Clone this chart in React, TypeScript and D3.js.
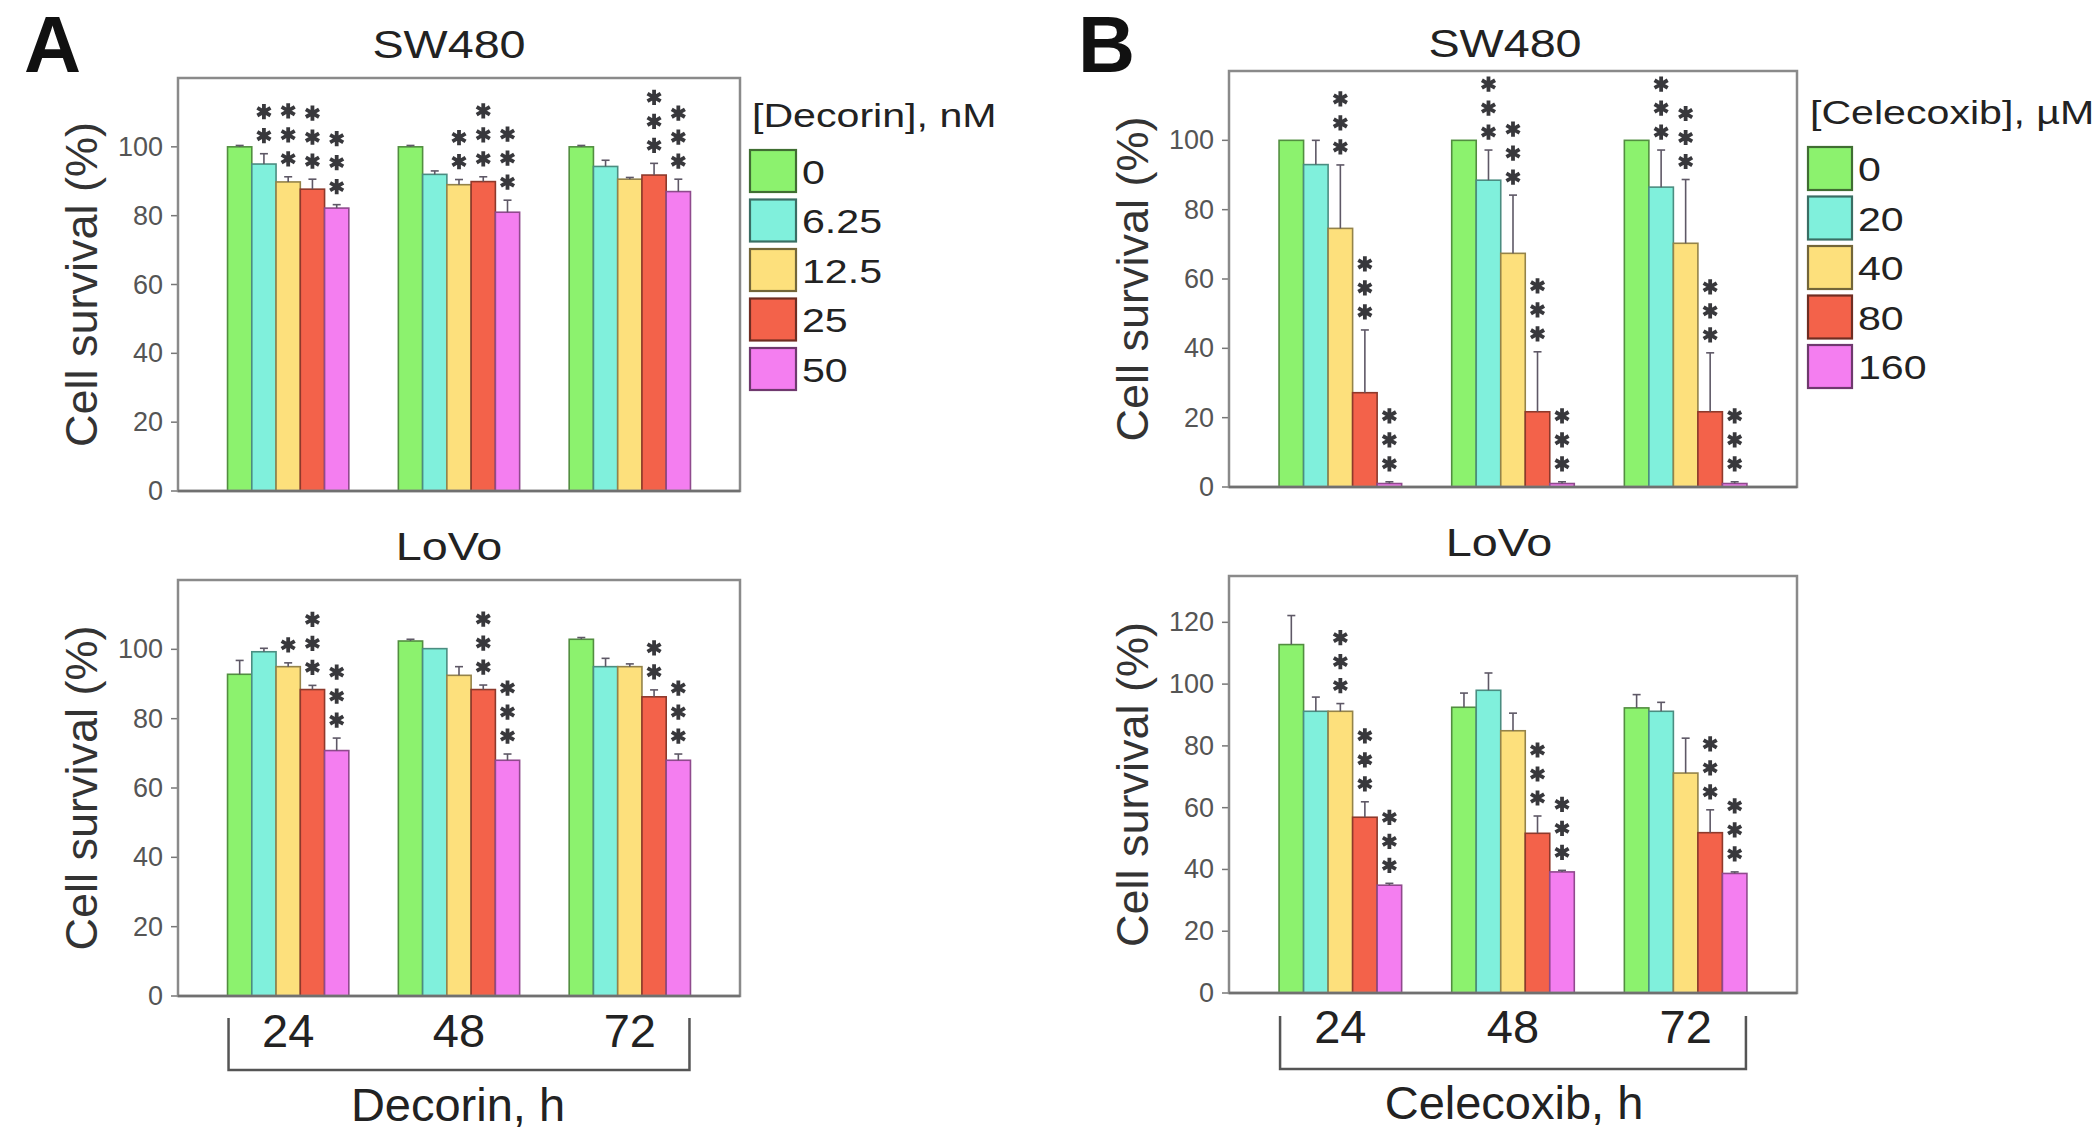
import React from 'react';
import * as d3 from 'd3';

// ---------- data ----------
const timeGroups = ['24', '48', '72'];
const decorinDoses = ['0', '6.25', '12.5', '25', '50'];
const celecoxibDoses = ['0', '20', '40', '80', '160'];
const seriesColors = ['#8cf26e', '#80f0dc', '#fde07c', '#f3624a', '#f47ef0'];
const yTicksStd = [0, 20, 40, 60, 80, 100];
const yTicksLoVoB = [0, 20, 40, 60, 80, 100, 120];

// values[dose][time]
const decorinSW480 = [[100, 100, 100], [95, 92, 94.3], [89.8, 89, 90.6], [87.7, 89.9, 91.8], [82.2, 81, 87]];
const decorinSW480Err = [[0.4, 0.4, 0.4], [3, 1, 1.8], [1.5, 1.5, 0.5], [2.9, 1.4, 3.4], [1, 3.5, 3.6]];
const decorinSW480Stars = [[0, 0, 0], [2, 0, 0], [3, 2, 0], [3, 3, 3], [3, 3, 3]];

const decorinLoVo = [[92.8, 102.4, 102.9], [99.3, 100.2, 95], [95, 92.5, 95], [88.4, 88.4, 86.3], [70.8, 68, 68]];
const decorinLoVoErr = [[4, 0.5, 0.5], [1, 0.3, 2.4], [1.1, 2.5, 0.8], [1.2, 1.3, 2], [3.6, 1.8, 1.8]];
const decorinLoVoStars = [[0, 0, 0], [0, 0, 0], [1, 0, 0], [3, 3, 2], [3, 3, 3]];

const celecoxibSW480 = [[100, 100, 100], [93, 88.5, 86.5], [74.6, 67.4, 70.3], [27.2, 21.7, 21.7], [1, 1, 1]];
const celecoxibSW480Err = [[0, 0, 0], [7, 8.7, 10.7], [18.3, 16.8, 18.4], [18.1, 17.3, 17], [0.5, 0.5, 0.5]];
const celecoxibSW480Stars = [[0, 0, 0], [0, 3, 3], [3, 3, 3], [3, 3, 3], [3, 3, 3]];

const celecoxibLoVo = [[112.8, 92.5, 92.3], [91.2, 98, 91.2], [91.2, 84.9, 71.2], [56.9, 51.7, 51.9], [34.9, 39.2, 38.7]];
const celecoxibLoVoErr = [[9.4, 4.6, 4.3], [4.6, 5.6, 2.9], [2.5, 5.7, 11.3], [5, 5.6, 7.4], [0.6, 0.5, 0.5]];
const celecoxibLoVoStars = [[0, 0, 0], [0, 0, 0], [3, 0, 0], [3, 3, 3], [3, 3, 3]];

const FONT = '"Liberation Sans", Arial, Helvetica, sans-serif';

// ---------- helpers ----------
function T({ x, y, sx = 1, anchor = 'start', size, weight = 'normal', fill = '#222', baseline, children, rotate = 0 }: any) {
  return (
    <text
      transform={`translate(${x},${y}) rotate(${rotate}) scale(${sx},1)`}
      textAnchor={anchor}
      fontSize={size}
      fontWeight={weight}
      fill={fill}
      fontFamily={FONT}
      dominantBaseline={baseline}
    >
      {children}
    </text>
  );
}

function starPath(cx: number, cy: number, r: number) {
  const c = Math.cos(Math.PI / 6) * r;
  const s = Math.sin(Math.PI / 6) * r;
  return `M${cx},${cy - r}L${cx},${cy + r}M${cx - c},${cy - s}L${cx + c},${cy + s}M${cx - c},${cy + s}L${cx + c},${cy - s}`;
}

function Panel({ x0, x1, y0, y1, yMax, ticks, values, errs, stars, doses, title, titleX, titleY, showX, xLabelY }: any) {
  const xBand = d3.scaleBand<string>().domain(timeGroups).range([x0, x1]).padding(0.29);
  const inner = d3.scaleBand<string>().domain(doses).range([0, xBand.bandwidth()]).padding(0);
  const y = d3.scaleLinear().domain([0, yMax]).range([y1, y0]);
  const bw = inner.bandwidth();
  const axisTitleX = x0 - 97;
  const midY = (y0 + y1) / 2;
  return (
    <g>
      <T x={titleX} y={titleY} sx={1.23} anchor="middle" size={38} fill="#222">{title}</T>
      <T x={axisTitleX} y={midY} rotate={-90} anchor="middle" size={45} baseline="central" fill="#333">Cell survival (%)</T>
      {ticks.map((t: number) => (
        <g key={t}>
          <line x1={x0 - 7} x2={x0} y1={y(t)} y2={y(t)} stroke="#777" strokeWidth={1.5} />
          <T x={x0 - 15} y={y(t)} anchor="end" size={27} baseline="central" fill="#555">{t}</T>
        </g>
      ))}
      {doses.map((dose: string, i: number) =>
        timeGroups.map((g, j) => {
          const v = values[i][j];
          const e = errs[i][j];
          const bx = (xBand(g) as number) + (inner(dose) as number);
          const cx = bx + bw / 2;
          const col = seriesColors[i];
          const top = y(v);
          const errTop = y(v + e);
          const n = stars[i][j];
          return (
            <g key={dose + g}>
              <rect x={bx} y={top} width={bw} height={y(0) - top} fill={col} stroke={d3.color(col)!.darker(1.5).toString()} strokeWidth={1.6} />
              {e > 0.3 && (
                <g stroke="#5e5866" strokeWidth={1.6}>
                  <line x1={cx} x2={cx} y1={top} y2={errTop} />
                  <line x1={cx - 4} x2={cx + 4} y1={errTop} y2={errTop} />
                </g>
              )}
              {d3.range(n).map((k) => (
                <path key={k} d={starPath(cx, errTop - 18 - k * 24, 7.6)} stroke="#38383c" strokeWidth={3.8} fill="none" />
              ))}
            </g>
          );
        })
      )}
      <rect x={x0} y={y0} width={x1 - x0} height={y1 - y0} fill="none" stroke="#8a8a8a" strokeWidth={2.5} />
      <line x1={x0} x2={x1} y1={y1} y2={y1} stroke="#707070" strokeWidth={2.5} />
      {showX && timeGroups.map((g) => (
        <T key={g} x={(xBand(g) as number) + xBand.bandwidth() / 2} y={xLabelY} anchor="middle" size={47} fill="#222">{g}</T>
      ))}
    </g>
  );
}

function Legend({ x, y, title, labels, sw, sh }: any) {
  return (
    <g>
      <T x={x + 2} y={y} sx={1.21} size={34} fill="#222">{title}</T>
      {labels.map((l: string, i: number) => {
        const sy = y + 23 + i * 49.5;
        return (
          <g key={l}>
            <rect x={x} y={sy} width={sw} height={sh} fill={seriesColors[i]} stroke={d3.color(seriesColors[i])!.darker(2.2).toString()} strokeWidth={2.2} />
            <T x={x + sw + 6} y={sy + sh / 2 + 1} sx={1.21} size={34} baseline="central" fill="#222">{l}</T>
          </g>
        );
      })}
    </g>
  );
}

function Bracket({ x0, x1, yTop, yBot }: any) {
  const xBand = d3.scaleBand<string>().domain(timeGroups).range([x0, x1]).padding(0.29);
  const gx0 = xBand(timeGroups[0]) as number;
  const gx1 = (xBand(timeGroups[2]) as number) + xBand.bandwidth();
  return <path d={`M${gx0 + 1},${yTop}L${gx0 + 1},${yBot}L${gx1 - 1},${yBot}L${gx1 - 1},${yTop}`} fill="none" stroke="#555" strokeWidth={2.5} />;
}

export default function App() {
  return (
    <svg width={2100} height={1142} style={{ position: 'absolute', left: 0, top: 0, background: '#fff' }}>
      <rect x={0} y={0} width={2100} height={1142} fill="#fff" />
      {/* Panel A */}
      <T x={24} y={72} size={79} weight="bold" fill="#111">A</T>
      <Panel x0={178} x1={740} y0={78} y1={491} yMax={120} ticks={yTicksStd}
        values={decorinSW480} errs={decorinSW480Err} stars={decorinSW480Stars} doses={decorinDoses}
        title="SW480" titleX={449} titleY={58} />
      <Legend x={750} y={127} title="[Decorin], nM" labels={decorinDoses} sw={46} sh={42} />
      <Panel x0={178} x1={740} y0={580} y1={996} yMax={120} ticks={yTicksStd}
        values={decorinLoVo} errs={decorinLoVoErr} stars={decorinLoVoStars} doses={decorinDoses}
        title="LoVo" titleX={449} titleY={560} showX xLabelY={1047} />
      <Bracket x0={178} x1={740} yTop={1018} yBot={1070} />
      <T x={458} y={1121} anchor="middle" size={47} fill="#222">Decorin, h</T>

      {/* Panel B */}
      <T x={1078} y={72} size={79} weight="bold" fill="#111">B</T>
      <Panel x0={1229} x1={1797} y0={71} y1={487} yMax={120} ticks={yTicksStd}
        values={celecoxibSW480} errs={celecoxibSW480Err} stars={celecoxibSW480Stars} doses={celecoxibDoses}
        title="SW480" titleX={1505} titleY={57} />
      <Legend x={1808} y={124} title="[Celecoxib], µM" labels={celecoxibDoses} sw={44} sh={43} />
      <Panel x0={1229} x1={1797} y0={576} y1={993} yMax={135} ticks={yTicksLoVoB}
        values={celecoxibLoVo} errs={celecoxibLoVoErr} stars={celecoxibLoVoStars} doses={celecoxibDoses}
        title="LoVo" titleX={1499} titleY={556} showX xLabelY={1043} />
      <Bracket x0={1229} x1={1797} yTop={1016} yBot={1069} />
      <T x={1514} y={1119} anchor="middle" size={47} fill="#222">Celecoxib, h</T>
    </svg>
  );
}
